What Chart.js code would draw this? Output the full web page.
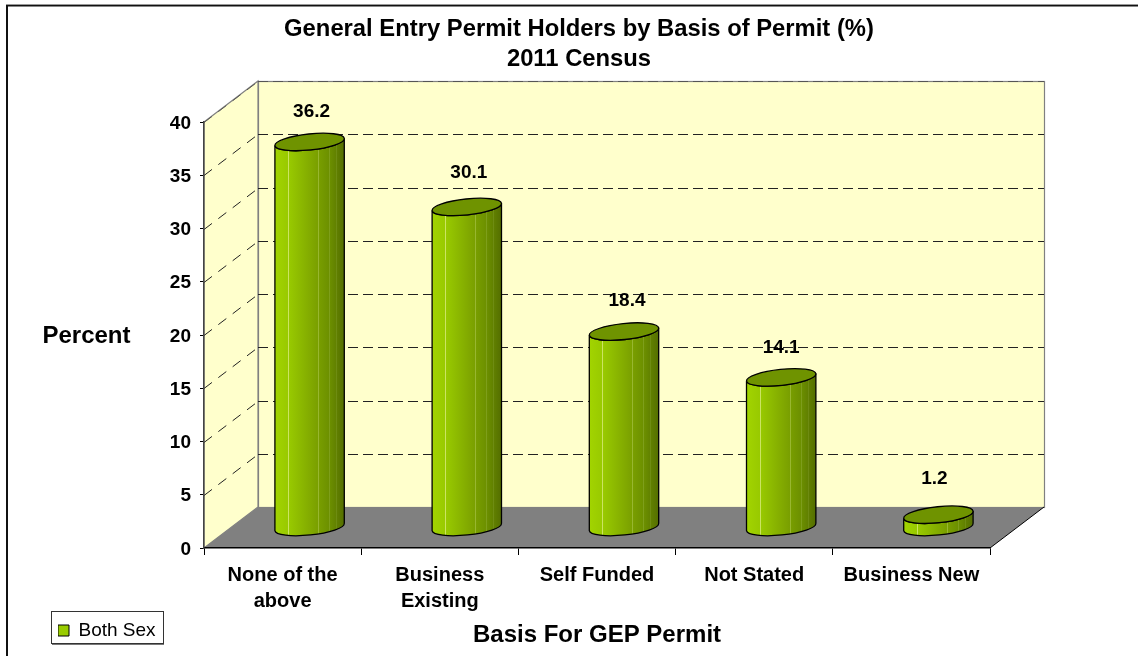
<!DOCTYPE html>
<html><head><meta charset="utf-8">
<style>html,body{margin:0;padding:0;background:#fff}canvas{display:block}</style>
<script src="https://cdn.jsdelivr.net/npm/chart.js@4"></script>
</head><body>
<div style="width:1138px;height:656px"><canvas id="c" width="1138" height="656"></canvas></div>
<script>
const categories = [["None of the","above"],["Business","Existing"],"Self Funded","Not Stated","Business New"];
const values = [36.2, 30.1, 18.4, 14.1, 1.2];
const yTicks = [0,5,10,15,20,25,30,35,40];
const seriesName = "Both Sex";
const chartTitle = ["General Entry Permit Holders by Basis of Permit (%)","2011 Census"];
const xTitle = "Basis For GEP Permit";
const yTitle = "Percent";

const FONT = '"Liberation Sans", Arial, sans-serif';
const DX = 54, DY = -41;              // depth of the 3D box
const labelNudge = [[2,-30],[2,-34],[3,-30.5],[0,-30],[-4,-35.7]];

class Cylinder extends Chart.BarElement {
  static id = 'cylinder';
  draw(ctx) {
    const {x, y, base, width} = this.getProps(['x','y','base','width'], false);
    const cx = x + DX/2, top = y + DY/2, bot = base + DY/2;
    const rx = width/2 + 0.3, ry = 8, rot = -6*Math.PI/180;
    const hx = rx*Math.cos(rot), hy = rx*Math.sin(rot);
    const body = new Path2D();
    body.moveTo(cx-hx, top-hy);
    body.lineTo(cx-hx, bot-hy);
    body.ellipse(cx, bot, rx, ry, rot, Math.PI, 0, true);
    body.lineTo(cx+hx, top+hy);
    body.ellipse(cx, top, rx, ry, rot, 0, Math.PI, false);
    body.closePath();
    ctx.save();
    ctx.clip(body);
    const g = ctx.createLinearGradient(cx-hx, 0, cx+hx, 0);
    g.addColorStop(0, '#A2D400'); g.addColorStop(.22, '#97C800');
    g.addColorStop(.55, '#7FA600'); g.addColorStop(.8, '#6B8E00'); g.addColorStop(1, '#546E00');
    ctx.fillStyle = g;
    ctx.fillRect(cx-hx-2, top-20, 2*hx+4, bot-top+50);
    [[.19,'rgba(225,240,140,.7)'],[.62,'rgba(200,220,120,.4)'],[.78,'rgba(170,195,90,.3)'],[.88,'rgba(150,175,70,.25)']].forEach(([f,c])=>{
      ctx.strokeStyle = c; ctx.lineWidth = 1;
      const sx = Math.round(cx-hx+2*hx*f)+.5;
      ctx.beginPath(); ctx.moveTo(sx, top-20); ctx.lineTo(sx, bot+30); ctx.stroke();
    });
    ctx.restore();
    ctx.strokeStyle = '#000'; ctx.lineWidth = 1.3;
    ctx.stroke(body);
    ctx.beginPath();
    ctx.ellipse(cx, top, rx, ry, rot, 0, Math.PI*2);
    ctx.fillStyle = '#6F9300'; ctx.fill(); ctx.stroke();
  }
}
class CylinderBar extends Chart.BarController {
  static id = 'cylinderBar';
  static defaults = {...Chart.BarController.defaults, dataElementType: 'cylinder'};
  static overrides = Chart.BarController.overrides;
}
Chart.register(Cylinder, CylinderBar);

const box3d = {
  id: 'box3d',
  afterLayout(chart) {
    const t = chart.titleBlock;
    t.left = 0; t.right = 1158; t.width = 1158;
    const l = chart.legend;
    l.left = 58; l.right = 161; l.top = 621; l.bottom = 643; l.width = 103; l.height = 22;
    chart.scales.y.getLabelItems().forEach(it => { it.options.translation[1] += 1.5; });
  },
  beforeDraw(chart) {
    const c = chart.ctx, a = chart.chartArea, ys = chart.scales.y;
    c.save();
    // frame
    c.fillStyle = '#111';
    c.fillRect(6, 5, 2, 651);
    c.fillRect(6, 5, 1132, 1.5);
    c.fillStyle = '#999'; c.fillRect(6, 4, 1132, 1);
    // walls
    c.fillStyle = '#FFFFCC'; c.strokeStyle = '#808080'; c.lineWidth = 1.2;
    c.fillRect(a.left+DX, a.top+DY, a.width, a.height);
    c.strokeRect(a.left+DX+.5, a.top+DY+.5, a.width, a.height);
    c.beginPath();
    c.moveTo(a.left, a.top); c.lineTo(a.left+DX, a.top+DY);
    c.lineTo(a.left+DX, a.bottom+DY); c.lineTo(a.left, a.bottom); c.closePath();
    c.fill(); c.stroke();
    // floor
    c.fillStyle = '#808080';
    c.beginPath();
    c.moveTo(a.left, a.bottom); c.lineTo(a.left+DX, a.bottom+DY);
    c.lineTo(a.right+DX, a.bottom+DY); c.lineTo(a.right, a.bottom); c.closePath();
    c.fill();
    c.strokeStyle = '#000'; c.lineWidth = 1;
    c.beginPath(); c.moveTo(a.right, a.bottom); c.lineTo(a.right+DX, a.bottom+DY); c.stroke();
    // dashed grid
    c.lineWidth = 1;
    ys.ticks.forEach(t => {
      if (t.value === 0) return;
      const p = Math.round(ys.getPixelForValue(t.value)) + .5;
      c.strokeStyle = t.value === 40 ? '#555' : '#222';
      c.setLineDash([10, 8]);
      c.beginPath(); c.moveTo(a.left, p); c.lineTo(a.left+DX, p+DY); c.stroke();
      c.setLineDash([10, 5]);
      c.beginPath(); c.moveTo(a.left+DX, p+DY); c.lineTo(a.right+DX, p+DY); c.stroke();
    });
    c.restore();
  },
  afterDatasetsDraw(chart) {
    const c = chart.ctx, meta = chart.getDatasetMeta(0);
    c.save();
    c.font = 'bold 19px ' + FONT; c.fillStyle = '#000';
    c.textAlign = 'center'; c.textBaseline = 'middle';
    meta.data.forEach((el, i) => {
      const n = labelNudge[i];
      c.fillText(values[i].toFixed(1), el.x + DX/2 + n[0], el.y + DY/2 + n[1]);
    });
    c.restore();
  },
  afterDraw(chart) {
    const c = chart.ctx, a = chart.chartArea;
    c.save();
    c.font = 'bold 24px ' + FONT; c.fillStyle = '#000';
    c.textAlign = 'center'; c.textBaseline = 'middle';
    c.fillText(yTitle, 86.5, (a.top + a.bottom)/2 + 1);
    c.strokeStyle = '#333'; c.lineWidth = 1;
    c.strokeRect(51.5, 611.5, 112, 32);
    c.fillStyle = '#777'; c.fillRect(52, 644, 112, 1);
    c.restore();
  }
};

new Chart(document.getElementById('c'), {
  type: 'cylinderBar',
  data: { labels: categories, datasets: [{
    label: seriesName, data: values,
    backgroundColor: '#99CC00', borderColor: '#000', borderWidth: 1,
    barPercentage: 0.44, categoryPercentage: 1
  }]},
  options: {
    responsive: false, animation: false,
    layout: { padding: { right: 148, left: 0, top: 0, bottom: 0 } },
    plugins: {
      tooltip: { enabled: false },
      title: { display: true, text: chartTitle, color: '#000',
        font: { family: FONT, size: 23.8, weight: 'bold', lineHeight: 30/23.8 },
        padding: { top: 14, bottom: 48 } },
      legend: { display: true, position: 'chartArea', align: 'start',
        labels: { boxWidth: 11, boxHeight: 11, padding: 0, color: '#000',
          font: { family: FONT, size: 19 } } }
    },
    scales: {
      x: {
        afterFit: s => { s.height = 108; },
        border: { color: '#000', width: 1.5 },
        grid: { drawOnChartArea: false, color: '#000', tickLength: 7, offset: true },
        ticks: { color: '#000', maxRotation: 0, autoSkip: false, padding: 7,
          font: { family: FONT, size: 20, weight: 'bold', lineHeight: 26/20 } },
        title: { display: true, text: xTitle, color: '#000',
          font: { family: FONT, size: 24, weight: 'bold' }, padding: { top: 0, bottom: 6 } }
      },
      y: {
        min: 0, max: 40,
        afterBuildTicks: s => { s.ticks = yTicks.map(v => ({ value: v })); },
        afterFit: s => { s.width = 204; },
        border: { color: '#444', width: 1.5 },
        grid: { drawOnChartArea: false, color: '#000', tickLength: 4 },
        ticks: { color: '#000', padding: 9, font: { family: FONT, size: 19, weight: 'bold' } }
      }
    }
  },
  plugins: [box3d]
});
</script>
</body></html>
